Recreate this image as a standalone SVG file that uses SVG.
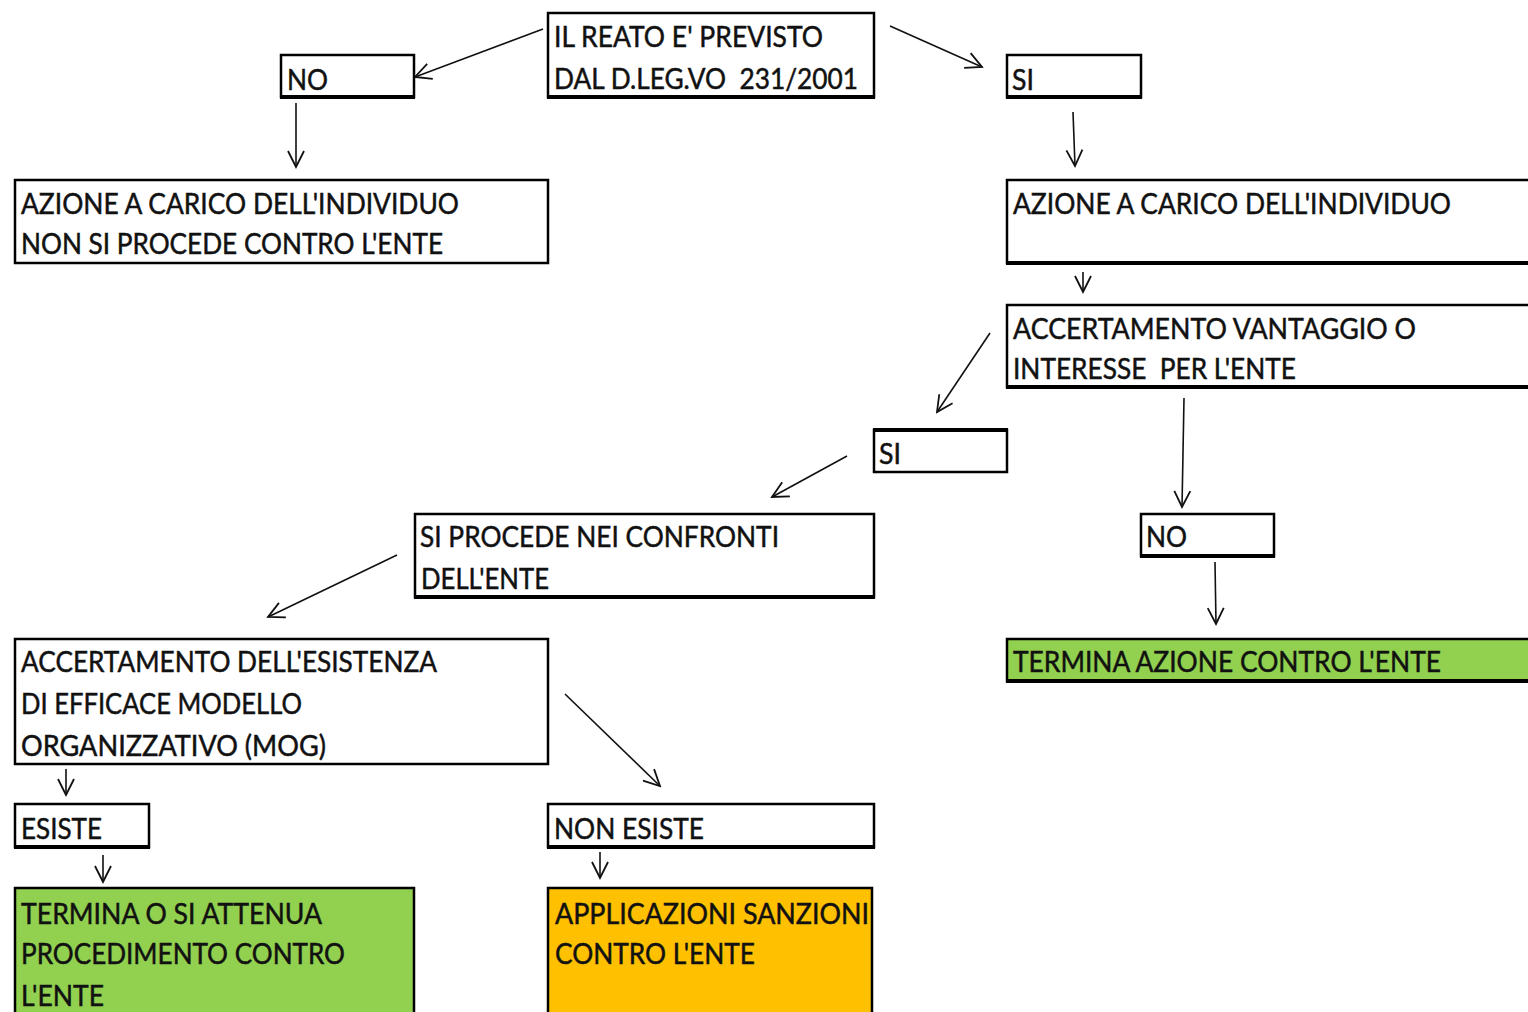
<svg xmlns="http://www.w3.org/2000/svg" width="1528" height="1012" viewBox="0 0 1528 1012">
<style>
.box{fill:#fff;stroke:#000;stroke-width:2.5}
.green{fill:#92D050;stroke:#000;stroke-width:2.5}
.orange{fill:#FFC000;stroke:#000;stroke-width:2.5}
.bt{stroke:#000;stroke-width:4}
text{font-family:Lato,"Open Sans","Liberation Sans",sans-serif;font-size:29px;fill:#111;stroke:#111;stroke-width:0.5}
.c{fill:none;stroke:#111;stroke-width:1.6;marker-end:url(#v)}
</style>
<defs>
<marker id="v" viewBox="0 0 20 20" refX="18" refY="10" markerWidth="20" markerHeight="20" markerUnits="userSpaceOnUse" orient="auto">
<path d="M2,2 L18,10 L2,18" fill="none" stroke="#111" stroke-width="1.8"/>
</marker>
</defs>
<rect width="1528" height="1012" fill="#fff"/>
<g id="connectors">
<line class="c" x1="543" y1="29" x2="415" y2="77"/>
<line class="c" x1="890" y1="26" x2="982" y2="67"/>
<line class="c" x1="296" y1="103" x2="296" y2="167"/>
<line class="c" x1="1073" y1="112" x2="1075" y2="166"/>
<line class="c" x1="1083" y1="272" x2="1083" y2="292"/>
<line class="c" x1="990" y1="333" x2="937" y2="412"/>
<line class="c" x1="1184" y1="398" x2="1182" y2="507"/>
<line class="c" x1="847" y1="456" x2="772" y2="497"/>
<line class="c" x1="1215" y1="562" x2="1216" y2="624"/>
<line class="c" x1="397" y1="555" x2="268" y2="617"/>
<line class="c" x1="565" y1="694" x2="660" y2="786"/>
<line class="c" x1="66" y1="769" x2="66" y2="795"/>
<line class="c" x1="103" y1="855" x2="103" y2="882"/>
<line class="c" x1="600" y1="852" x2="600" y2="878"/>
</g>
<g id="n-reato">
<rect class="box" x="548" y="13" width="326" height="84"/>
<line class="bt" x1="547" y1="97" x2="875" y2="97"/>
<text x="554" y="47" textLength="269" lengthAdjust="spacingAndGlyphs">IL REATO E' PREVISTO</text>
<text x="554" y="89" textLength="304" lengthAdjust="spacingAndGlyphs" xml:space="preserve">DAL D.LEG.VO  231/2001</text>
</g>
<g id="n-no1">
<rect class="box" x="281" y="55" width="133" height="42"/>
<line class="bt" x1="280" y1="97" x2="415" y2="97"/>
<text x="287" y="90" textLength="41" lengthAdjust="spacingAndGlyphs">NO</text>
</g>
<g id="n-si1">
<rect class="box" x="1007" y="55" width="134" height="42"/>
<line class="bt" x1="1006" y1="97" x2="1142" y2="97"/>
<text x="1012" y="90" textLength="22" lengthAdjust="spacingAndGlyphs">SI</text>
</g>
<g id="n-azione-left">
<rect class="box" x="15" y="180" width="533" height="83"/>
<text x="21" y="214" textLength="438" lengthAdjust="spacingAndGlyphs">AZIONE A CARICO DELL'INDIVIDUO</text>
<text x="21" y="254" textLength="422" lengthAdjust="spacingAndGlyphs">NON SI PROCEDE CONTRO L'ENTE</text>
</g>
<g id="n-azione-right">
<rect class="box" x="1007" y="180" width="530" height="83"/>
<line class="bt" x1="1006" y1="263" x2="1528" y2="263"/>
<text x="1013" y="214" textLength="438" lengthAdjust="spacingAndGlyphs">AZIONE A CARICO DELL'INDIVIDUO</text>
</g>
<g id="n-vantaggio">
<rect class="box" x="1007" y="305" width="530" height="82"/>
<line class="bt" x1="1006" y1="387" x2="1528" y2="387"/>
<text x="1013" y="339" textLength="403" lengthAdjust="spacingAndGlyphs">ACCERTAMENTO VANTAGGIO O</text>
<text x="1013" y="379" textLength="283" lengthAdjust="spacingAndGlyphs" xml:space="preserve">INTERESSE  PER L'ENTE</text>
</g>
<g id="n-si2">
<rect class="box" x="874" y="430" width="133" height="42"/>
<line class="bt" x1="873" y1="430" x2="1008" y2="430"/>
<text x="879" y="464" textLength="22" lengthAdjust="spacingAndGlyphs">SI</text>
</g>
<g id="n-no2">
<rect class="box" x="1141" y="514" width="133" height="42"/>
<line class="bt" x1="1140" y1="556" x2="1275" y2="556"/>
<text x="1146" y="547" textLength="41" lengthAdjust="spacingAndGlyphs">NO</text>
</g>
<g id="n-procede">
<rect class="box" x="415" y="514" width="459" height="83"/>
<line class="bt" x1="414" y1="597" x2="875" y2="597"/>
<text x="420" y="547" textLength="359" lengthAdjust="spacingAndGlyphs">SI PROCEDE NEI CONFRONTI</text>
<text x="421" y="589" textLength="128" lengthAdjust="spacingAndGlyphs">DELL'ENTE</text>
</g>
<g id="n-termina-azione">
<rect class="green" x="1007" y="639" width="530" height="42"/>
<line class="bt" x1="1006" y1="681" x2="1528" y2="681"/>
<text x="1013" y="672" textLength="428" lengthAdjust="spacingAndGlyphs">TERMINA AZIONE CONTRO L'ENTE</text>
</g>
<g id="n-mog">
<rect class="box" x="15" y="639" width="533" height="125"/>
<text x="21" y="672" textLength="416" lengthAdjust="spacingAndGlyphs">ACCERTAMENTO DELL'ESISTENZA</text>
<text x="21" y="714" textLength="281" lengthAdjust="spacingAndGlyphs">DI EFFICACE MODELLO</text>
<text x="21" y="756" textLength="305" lengthAdjust="spacingAndGlyphs">ORGANIZZATIVO (MOG)</text>
</g>
<g id="n-esiste">
<rect class="box" x="15" y="804" width="134" height="43"/>
<line class="bt" x1="14" y1="847" x2="150" y2="847"/>
<text x="21" y="839" textLength="81" lengthAdjust="spacingAndGlyphs">ESISTE</text>
</g>
<g id="n-non-esiste">
<rect class="box" x="548" y="804" width="326" height="43"/>
<line class="bt" x1="547" y1="847" x2="875" y2="847"/>
<text x="554" y="839" textLength="150" lengthAdjust="spacingAndGlyphs">NON ESISTE</text>
</g>
<g id="n-termina-attenua">
<rect class="green" x="15" y="888" width="399" height="130"/>
<text x="21" y="924" textLength="301" lengthAdjust="spacingAndGlyphs">TERMINA O SI ATTENUA</text>
<text x="21" y="964" textLength="324" lengthAdjust="spacingAndGlyphs">PROCEDIMENTO CONTRO</text>
<text x="21" y="1006" textLength="83" lengthAdjust="spacingAndGlyphs">L'ENTE</text>
</g>
<g id="n-sanzioni">
<rect class="orange" x="548" y="888" width="324" height="130"/>
<text x="555" y="924" textLength="314" lengthAdjust="spacingAndGlyphs">APPLICAZIONI SANZIONI</text>
<text x="555" y="964" textLength="200" lengthAdjust="spacingAndGlyphs">CONTRO L'ENTE</text>
</g>
</svg>
